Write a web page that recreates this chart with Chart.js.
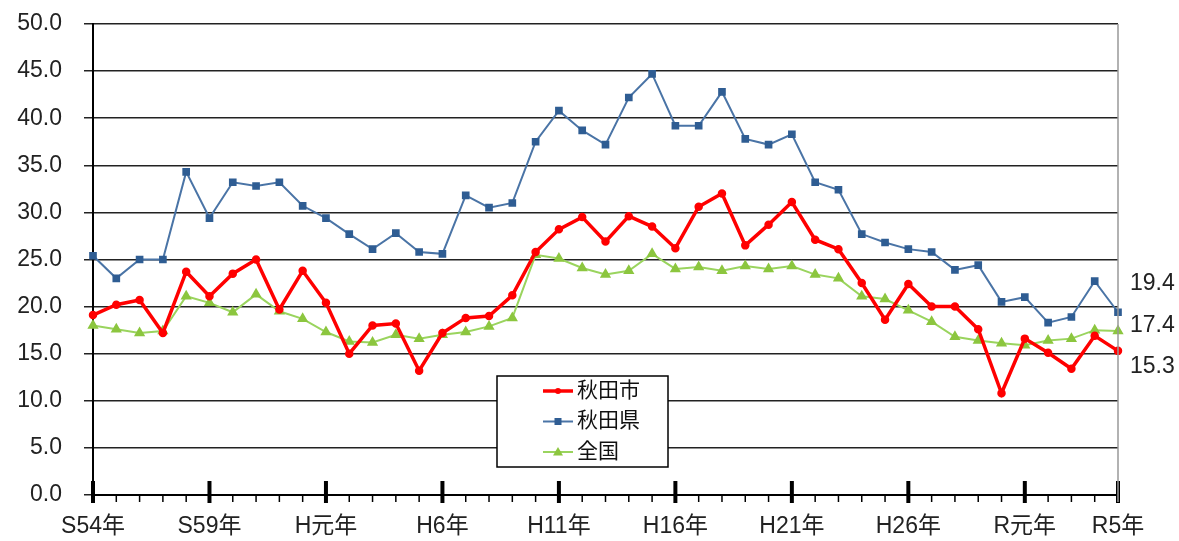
<!DOCTYPE html>
<html>
<head>
<meta charset="utf-8">
<script src="https://cdn.jsdelivr.net/npm/chart.js@4"></script>
<style>
  html, body { margin: 0; padding: 0; background: #fff; }
  #wrap { width: 1179px; height: 541px; position: relative; }
</style>
</head>
<body>
<div id="wrap"><canvas id="chart" width="1179" height="541"></canvas></div>
<script>
// 年（S54〜R5）
const years = [
  'S54年','S55年','S56年','S57年','S58年','S59年','S60年','S61年','S62年','S63年',
  'H元年','H2年','H3年','H4年','H5年','H6年','H7年','H8年','H9年','H10年',
  'H11年','H12年','H13年','H14年','H15年','H16年','H17年','H18年','H19年','H20年',
  'H21年','H22年','H23年','H24年','H25年','H26年','H27年','H28年','H29年','H30年',
  'R元年','R2年','R3年','R4年','R5年'
];

const akitaCity = [
  19.1, 20.2, 20.7, 17.2, 23.7, 21.1, 23.5, 25.0, 19.7, 23.8,
  20.4, 15.0, 18.0, 18.2, 13.2, 17.2, 18.8, 19.0, 21.2, 25.8,
  28.2, 29.5, 26.9, 29.6, 28.5, 26.2, 30.6, 32.0, 26.5, 28.7,
  31.1, 27.1, 26.1, 22.5, 18.6, 22.4, 20.0, 20.0, 17.6, 10.8,
  16.6, 15.1, 13.4, 16.9, 15.3
];

const akitaPref = [
  25.4, 23.0, 25.0, 25.0, 34.3, 29.4, 33.2, 32.8, 33.2, 30.7,
  29.4, 27.7, 26.1, 27.8, 25.8, 25.6, 31.8, 30.5, 31.0, 37.5,
  40.8, 38.7, 37.2, 42.2, 44.7, 39.2, 39.2, 42.8, 37.8, 37.2,
  38.3, 33.2, 32.4, 27.7, 26.8, 26.1, 25.8, 23.9, 24.4, 20.5,
  21.0, 18.3, 18.9, 22.7, 19.4
];

const national = [
  18.0, 17.6, 17.2, 17.4, 21.1, 20.4, 19.4, 21.3, 19.5, 18.7,
  17.3, 16.3, 16.2, 17.0, 16.6, 17.0, 17.3, 17.9, 18.8, 25.5,
  25.1, 24.1, 23.4, 23.8, 25.6, 24.0, 24.2, 23.8, 24.3, 24.0,
  24.3, 23.4, 23.0, 21.1, 20.8, 19.6, 18.4, 16.8, 16.4, 16.1,
  15.9, 16.4, 16.6, 17.5, 17.4
];

const seriesNames = ['秋田市', '秋田県', '全国'];

const FONT = "'Liberation Sans', 'Noto Sans CJK JP', sans-serif";
const last = years.length - 1;

// x軸の目盛り（毎年の小目盛り＋5年ごとの太い目盛り）
const tickMarks = {
  id: 'tickMarks',
  afterDraw(chart) {
    const { ctx, scales: { x, y }, chartArea } = chart;
    const base = y.getPixelForValue(0);
    ctx.save();
    ctx.strokeStyle = '#000';
    years.forEach((_, i) => {
      const px = x.getPixelForValue(i);
      const major = i % 5 === 0 || i === last;
      ctx.lineWidth = major ? 4 : 1.5;
      ctx.beginPath();
      ctx.moveTo(px, major ? base - 14 : base);
      ctx.lineTo(px, major ? base + 8 : base + 7);
      ctx.stroke();
    });
    // 右端の枠線
    ctx.strokeStyle = '#999';
    ctx.lineWidth = 1.5;
    ctx.beginPath();
    ctx.moveTo(chartArea.right, chartArea.top);
    ctx.lineTo(chartArea.right, base + 7);
    ctx.stroke();
    ctx.restore();
  }
};

// 最新値のラベル
const endLabels = {
  id: 'endLabels',
  afterDraw(chart) {
    const { ctx, scales: { y }, chartArea } = chart;
    const offsets = [16, -29, -5];
    ctx.save();
    ctx.font = '23px ' + FONT;
    ctx.fillStyle = '#222';
    ctx.textAlign = 'left';
    ctx.textBaseline = 'middle';
    chart.data.datasets.forEach((ds, i) => {
      const v = ds.data[last];
      ctx.fillText(v.toFixed(1), chartArea.right + 12, y.getPixelForValue(v) + offsets[i]);
    });
    ctx.restore();
  }
};

// 凡例（グラフ内の枠付き）
const boxLegend = {
  id: 'boxLegend',
  afterDatasetsDraw(chart) {
    const { ctx } = chart;
    const bx = 497, by = 376, bw = 171, bh = 91;
    ctx.save();
    ctx.fillStyle = '#fff';
    ctx.fillRect(bx, by, bw, bh);
    ctx.strokeStyle = '#000';
    ctx.lineWidth = 1.5;
    ctx.strokeRect(bx, by, bw, bh);
    ctx.font = '21px ' + FONT;
    ctx.textBaseline = 'middle';
    chart.data.datasets.forEach((ds, i) => {
      const yy = by + 15 + i * 30.5;
      ctx.strokeStyle = ds.borderColor;
      ctx.lineWidth = ds.borderWidth;
      ctx.beginPath();
      ctx.moveTo(543, yy);
      ctx.lineTo(573, yy);
      ctx.stroke();
      ctx.fillStyle = ds.pointBackgroundColor;
      const cx = 558;
      if (ds.pointStyle === 'rect') {
        ctx.fillRect(cx - 3.5, yy - 3.5, 7, 7);
      } else if (ds.pointStyle === 'triangle') {
        ctx.beginPath();
        ctx.moveTo(cx, yy - 5);
        ctx.lineTo(cx + 5, yy + 3.5);
        ctx.lineTo(cx - 5, yy + 3.5);
        ctx.closePath();
        ctx.fill();
      } else {
        ctx.beginPath();
        ctx.arc(cx, yy, 3, 0, Math.PI * 2);
        ctx.fill();
      }
      ctx.fillStyle = '#111';
      ctx.fillText(ds.label, 577, yy);
    });
    ctx.restore();
  }
};

new Chart(document.getElementById('chart'), {
  type: 'line',
  data: {
    labels: years,
    datasets: [
      {
        label: seriesNames[0],
        data: akitaCity,
        borderColor: '#ff0000',
        backgroundColor: '#ff0000',
        pointBackgroundColor: '#ff0000',
        pointBorderColor: '#ff0000',
        borderWidth: 3.5,
        pointStyle: 'circle',
        pointRadius: 2.5,
        tension: 0
      },
      {
        label: seriesNames[1],
        data: akitaPref,
        borderColor: '#4a74a6',
        backgroundColor: '#2f5d93',
        pointBackgroundColor: '#2f5d93',
        pointBorderColor: '#2f5d93',
        borderWidth: 2,
        pointStyle: 'rect',
        pointRadius: 4,
        tension: 0
      },
      {
        label: seriesNames[2],
        data: national,
        borderColor: '#9ad45e',
        backgroundColor: '#8cc63f',
        pointBackgroundColor: '#8cc63f',
        pointBorderColor: '#8cc63f',
        borderWidth: 2,
        pointStyle: 'triangle',
        pointRadius: 4.5,
        tension: 0
      }
    ]
  },
  options: {
    responsive: false,
    animation: false,
    layout: { padding: { top: 24, right: 61, left: 0, bottom: 0 } },
    plugins: {
      legend: { display: false },
      tooltip: { enabled: false }
    },
    scales: {
      x: {
        offset: false,
        grid: { display: true, drawOnChartArea: false, drawTicks: false },
        border: { display: true, color: '#000', width: 2 },
        ticks: {
          autoSkip: false,
          maxRotation: 0,
          padding: 18,
          color: '#222',
          font: { family: FONT, size: 23 },
          callback: (v, i) => (i % 5 === 0 || i === last) ? years[i] : ''
        },
        afterFit: s => { s.height = 46; s.paddingLeft = 0; s.paddingRight = 0; }
      },
      y: {
        min: 0,
        max: 50,
        grid: { color: '#222', lineWidth: 1.5, drawTicks: true, tickLength: 9 },
        border: { display: true, color: '#000', width: 2 },
        ticks: {
          stepSize: 5,
          padding: 22,
          color: '#222',
          font: { family: FONT, size: 23 },
          callback: v => v.toFixed(1)
        },
        afterFit: s => { s.width = 93; s.paddingTop = 0; s.paddingBottom = 0; }
      }
    }
  },
  plugins: [tickMarks, endLabels, boxLegend]
});
</script>
</body>
</html>
